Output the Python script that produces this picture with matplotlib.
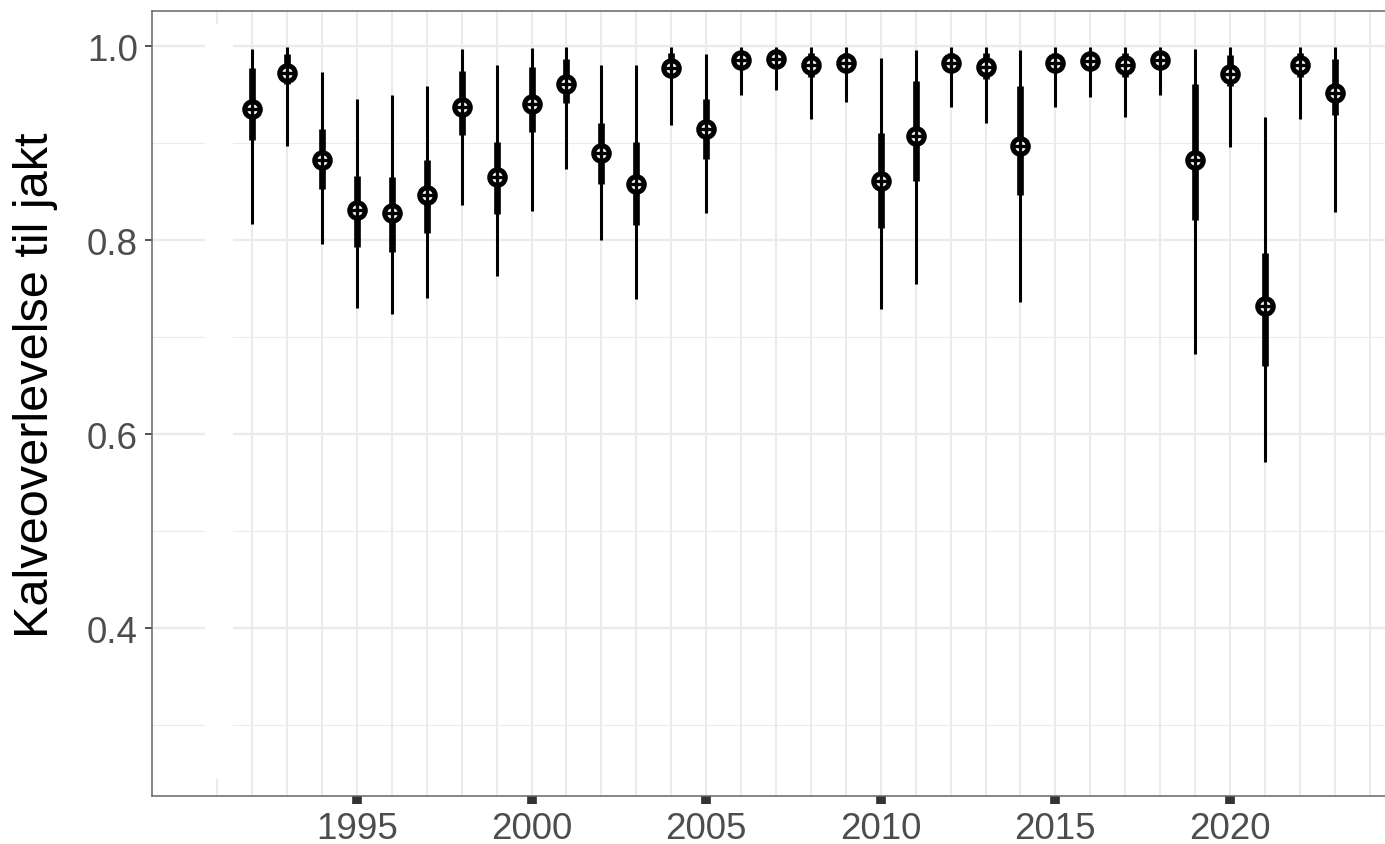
import matplotlib
matplotlib.use("Agg")
import matplotlib.pyplot as plt
from matplotlib.patches import Rectangle

# Calf survival until hunt, posterior summaries per year
years = list(range(1992, 2024))
median = [0.935, 0.972, 0.883, 0.831, 0.828, 0.846, 0.937, 0.865, 0.940, 0.961,
          0.890, 0.858, 0.977, 0.914, 0.986, 0.987, 0.980, 0.983, 0.861, 0.907,
          0.982, 0.978, 0.897, 0.982, 0.985, 0.980, 0.986, 0.882, 0.971, 0.732,
          0.980, 0.952]
lo66 = [0.903, 0.961, 0.853, 0.793, 0.788, 0.807, 0.908, 0.827, 0.911, 0.941,
        0.858, 0.815, 0.969, 0.884, 0.978, 0.980, 0.968, 0.974, 0.812, 0.861,
        0.973, 0.966, 0.846, 0.973, 0.976, 0.968, 0.978, 0.821, 0.959, 0.670,
        0.968, 0.929]
hi66 = [0.977, 0.992, 0.914, 0.866, 0.865, 0.883, 0.974, 0.901, 0.978, 0.987,
        0.921, 0.901, 0.993, 0.945, 0.994, 0.995, 0.993, 0.993, 0.910, 0.964,
        0.993, 0.993, 0.959, 0.993, 0.994, 0.993, 0.994, 0.961, 0.991, 0.787,
        0.993, 0.987]
lo95 = [0.817, 0.897, 0.796, 0.730, 0.724, 0.740, 0.836, 0.763, 0.830, 0.873,
        0.800, 0.739, 0.919, 0.828, 0.950, 0.955, 0.925, 0.942, 0.729, 0.755,
        0.937, 0.921, 0.736, 0.937, 0.947, 0.927, 0.949, 0.682, 0.896, 0.571,
        0.925, 0.829]
hi95 = [0.997, 0.999, 0.973, 0.945, 0.950, 0.959, 0.997, 0.980, 0.998, 0.999,
        0.980, 0.980, 0.999, 0.992, 0.999, 0.999, 0.999, 0.999, 0.988, 0.996,
        0.999, 0.999, 0.996, 0.999, 0.999, 0.999, 0.999, 0.997, 0.999, 0.927,
        0.999, 0.999]

y_major = [0.4, 0.6, 0.8, 1.0]
y_minor = [0.3, 0.5, 0.7, 0.9]
x_major = [1995, 2000, 2005, 2010, 2015, 2020]
x_minor = list(range(1991, 2025))

plt.rcParams['font.family'] = ['Liberation Sans', 'DejaVu Sans']

fig = plt.figure(figsize=(13.85, 8.45), dpi=100)
ax = fig.add_axes([152 / 1385, 1 - 797 / 845, 1 - 152 / 1385, (797 - 12) / 845])

ax.set_xlim(1989.13, 2024.44)
ax.set_ylim(0.2268, 1.0361)

# grid (ggplot theme_bw look)
grid_col = '#EBEBEB'
for x in x_minor:
    ax.axvline(x, color=grid_col, lw=1.5, zorder=0)
for y in y_major:
    ax.axhline(y, color=grid_col, lw=1.7, zorder=0)
for y in y_minor:
    ax.axhline(y, color=grid_col, lw=0.8, zorder=0)

# white band at the left of the panel that hides the grid
ax.add_patch(Rectangle((0.043, 0.0217), 0.0227, 0.9613, transform=ax.transAxes,
                       facecolor='white', edgecolor='none', zorder=0.5))

# point intervals
ax.vlines(years, lo95, hi95, color='black', lw=2.2, zorder=2)
ax.vlines(years, lo66, hi66, color='black', lw=4.8, zorder=3)
ax.plot(years, median, 'o', ms=11.2, mfc='white', mec='black', mew=3.6, zorder=4)
ax.plot(years, median, '+', ms=8.5, mec='black', mew=2.4, zorder=5)

# axes and ticks
ax.set_xticks(x_major)
ax.set_xticklabels([str(v) for v in x_major])
ax.set_yticks(y_major)
ax.set_yticklabels(['%.1f' % v for v in y_major])
ax.tick_params(axis='x', length=6, width=7, color='#333333', labelsize=26.5,
               labelcolor='#4D4D4D', pad=5)
ax.tick_params(axis='y', length=5, width=1.2, color='#333333', labelsize=26.5,
               labelcolor='#4D4D4D', pad=5)

for side in ['left', 'bottom', 'top']:
    ax.spines[side].set_color('#666666')
    ax.spines[side].set_linewidth(1.1)
ax.spines['right'].set_visible(False)

fig.text(36 / 1385, 1 - 385 / 845, 'Kalveoverlevelse til jakt', rotation=90,
         ha='center', va='center', fontsize=35, color='black')

fig.savefig('out.png', dpi=100)
